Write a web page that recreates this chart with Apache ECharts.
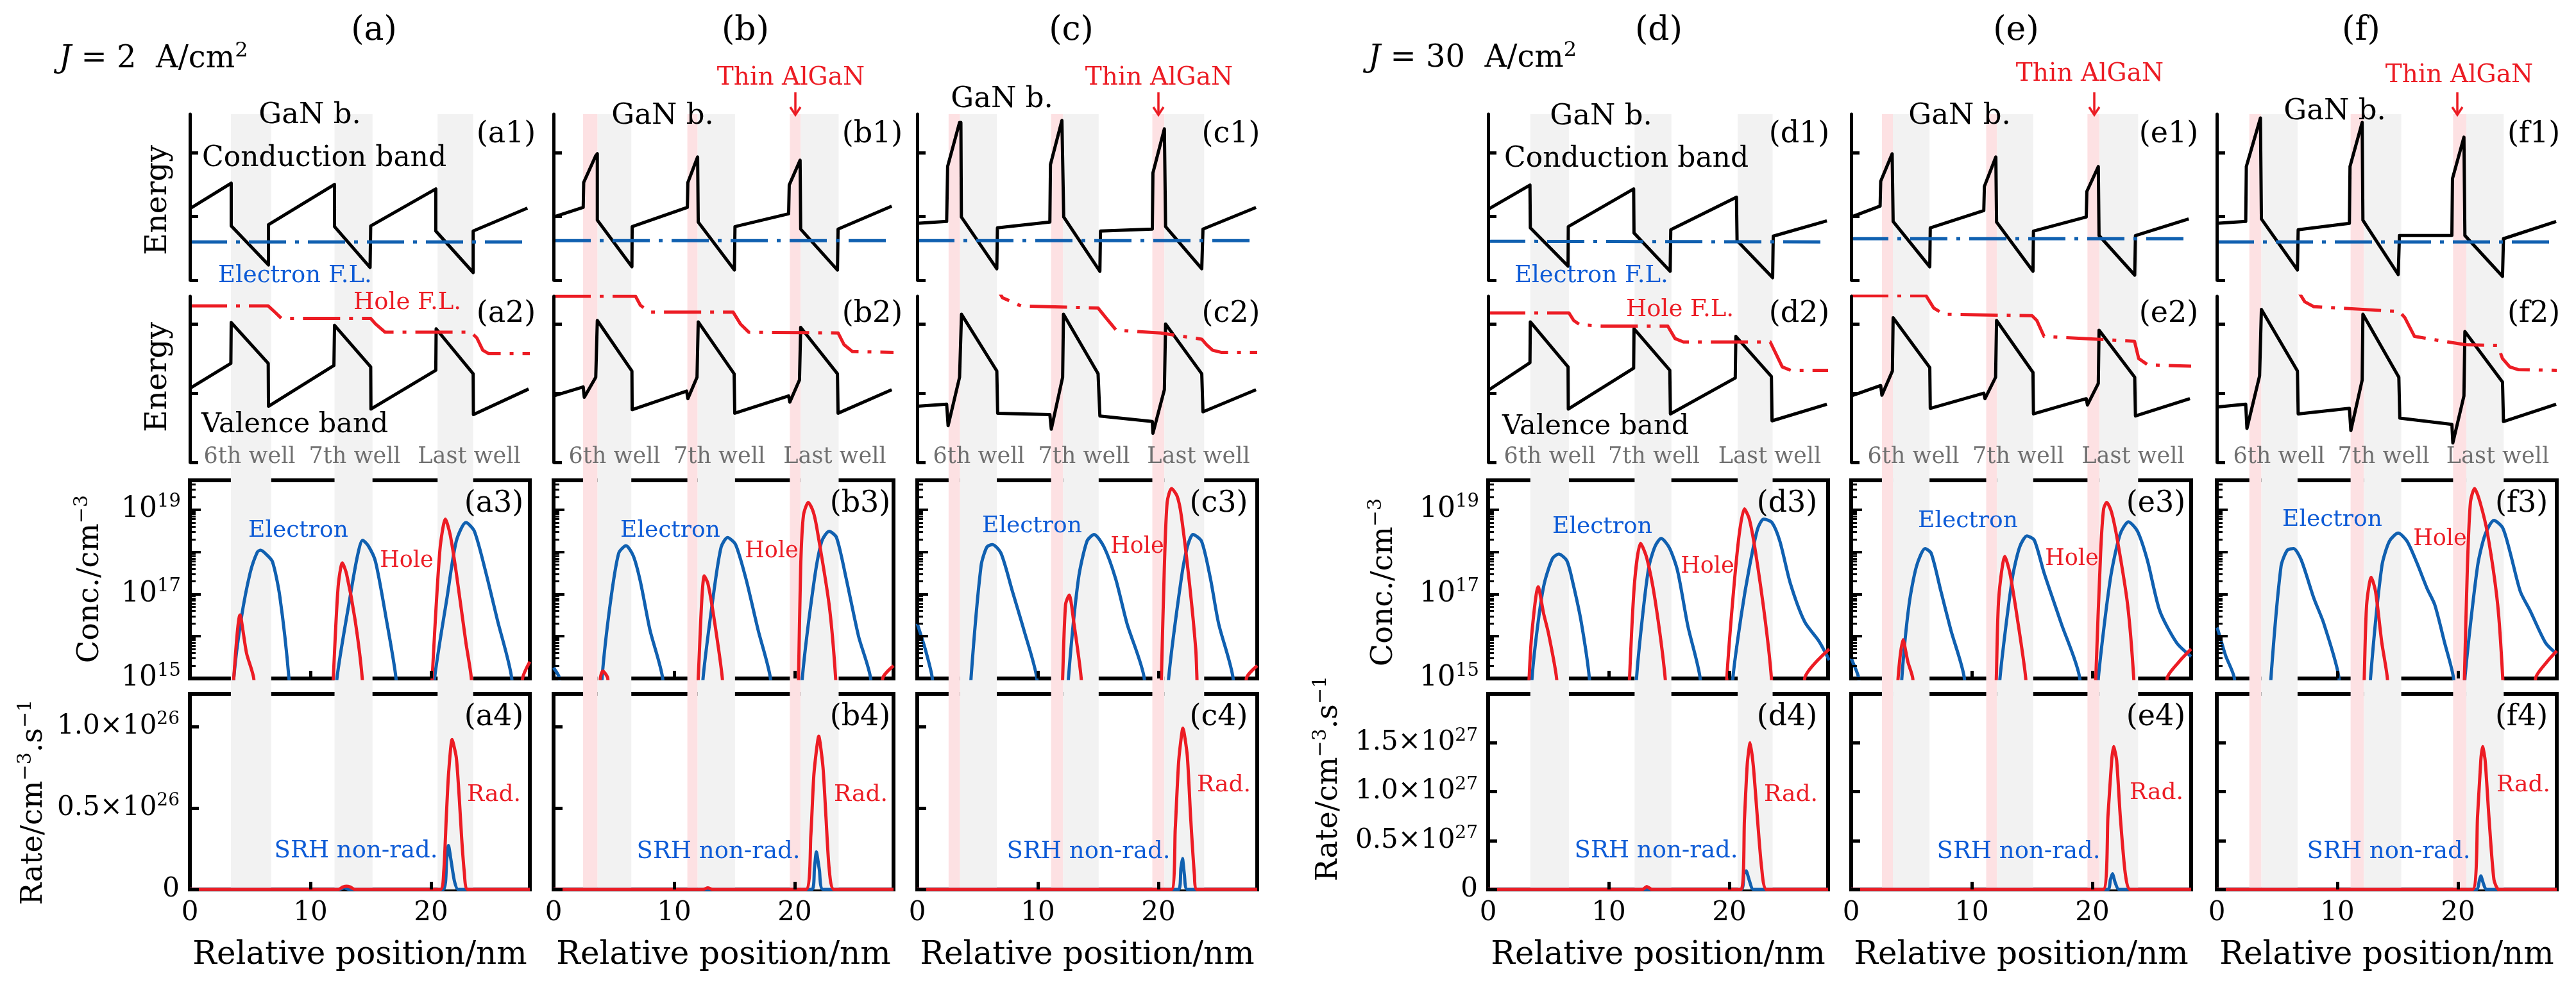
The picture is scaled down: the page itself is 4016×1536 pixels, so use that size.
<!DOCTYPE html>
<html><head><meta charset="utf-8">
<script src="https://cdn.jsdelivr.net/npm/echarts/dist/echarts.min.js"></script>
<style>html,body{margin:0;padding:0;background:#fff}#c{width:4016px;height:1536px}</style>
</head><body><div id="c"></div>
<script>
// ---------------- data (x in nm) ----------------
// shaded regions: quantum wells (gray) and thin AlGaN layers (pink)
const wellsA = [[3.4,6.75],[12.0,15.15],[20.55,23.5]];
const wellsB = [[3.65,6.45],[11.95,15.05],[20.5,23.65]];
const algB   = [[2.45,3.65],[11.1,11.95],[19.6,20.5]];
const wellsC = [[3.55,6.6],[12.1,15.05],[20.5,23.8]];
const algC   = [[2.6,3.55],[11.1,12.1],[19.5,20.5]];
const wellsD = [[3.5,6.7],[12.15,15.2],[20.7,23.6]];
const wellsE = [[3.46,6.5],[12.1,15.1],[20.6,23.8]];
const algE   = [[2.55,3.46],[11.2,12.1],[19.6,20.6]];
const wellsF = [[3.7,6.7],[12.2,15.3],[20.7,23.8]];
const algF   = [[2.7,3.7],[11.1,12.2],[19.6,20.7]];

// conduction band, electron F.L., valence band, hole F.L. (arbitrary energy units)
const cbA = [[0,1.12],[3.43,1.52],[3.43,0.85],[6.52,0.24],[6.52,0.87],[12.0,1.50],[12.0,0.84],[14.95,0.20],[15.0,0.85],[20.4,1.43],[20.4,0.77],[23.5,0.12],[23.5,0.77],[28.0,1.13]];
const efA = [[0,0.60],[28.2,0.60]];
const vbA = [[0,1.07],[3.4,1.43],[3.43,2.02],[6.5,1.43],[6.52,0.81],[11.95,1.40],[12.0,1.98],[15.0,1.38],[15.02,0.77],[20.4,1.33],[20.43,1.93],[23.5,1.28],[23.52,0.69],[28.1,1.06]];
const hfA = [[0,2.26],[6.5,2.26],[7.0,2.18],[7.6,2.08],[15.0,2.08],[15.4,2.0],[16.2,1.88],[23.3,1.88],[23.8,1.80],[24.3,1.62],[24.8,1.57],[28.2,1.57]];

const cbB = [[0,0.99],[2.46,1.14],[2.5,1.53],[3.5,1.95],[3.63,1.98],[3.63,0.94],[6.5,0.21],[6.52,0.84],[11.1,1.14],[11.14,1.53],[11.95,1.93],[12.0,1.93],[12.0,0.91],[15.0,0.16],[15.05,0.84],[19.5,1.04],[19.55,1.49],[20.45,1.88],[20.5,0.80],[23.55,0.16],[23.6,0.80],[28.05,1.16]];
const efB = [[0,0.62],[28.2,0.62]];
const vbB = [[0,0.96],[2.46,1.09],[2.55,0.94],[3.5,1.23],[3.63,2.05],[6.5,1.32],[6.52,0.76],[11.04,1.03],[11.14,0.92],[11.9,1.23],[12.0,2.03],[14.98,1.28],[15.03,0.71],[19.5,0.96],[19.6,0.87],[20.4,1.19],[20.5,1.95],[23.55,1.28],[23.6,0.71],[28.05,1.05]];
const hfB = [[0,2.40],[6.8,2.40],[7.2,2.27],[8.0,2.17],[14.9,2.17],[15.5,2.0],[16.2,1.88],[23.6,1.87],[24.1,1.7],[24.8,1.6],[28.2,1.59]];

const cbC = [[0,0.89],[2.44,0.92],[2.52,1.78],[3.51,2.47],[3.62,2.47],[3.66,0.99],[6.6,0.18],[6.65,0.82],[11.0,0.91],[11.05,1.81],[12.0,2.50],[12.1,2.50],[12.15,0.99],[15.15,0.14],[15.2,0.77],[19.5,0.80],[19.55,1.68],[20.5,2.37],[20.6,0.84],[23.6,0.18],[23.7,0.80],[28.1,1.14]];
const efC = [[0,0.62],[28.2,0.62]];
const vbC = [[0,0.81],[2.44,0.84],[2.56,0.53],[3.51,1.23],[3.67,2.14],[6.6,1.32],[6.67,0.71],[11.0,0.69],[11.12,0.48],[12.06,1.23],[12.13,2.14],[15.0,1.28],[15.15,0.67],[19.5,0.59],[19.55,0.42],[20.5,1.05],[20.6,2.0],[23.6,1.28],[23.7,0.73],[28.1,1.05]];
const hfC = [[5.8,2.75],[7.07,2.38],[8.6,2.26],[15.0,2.23],[15.6,2.1],[16.5,1.91],[20.2,1.87],[23.6,1.78],[24.0,1.7],[24.5,1.62],[25.2,1.59],[28.2,1.59]];

const cbD = [[0,1.11],[3.47,1.49],[3.5,0.82],[6.63,0.22],[6.65,0.84],[12.07,1.43],[12.1,0.74],[15.1,0.14],[15.15,0.79],[20.6,1.30],[20.65,0.62],[23.6,0.04],[23.65,0.69],[28.1,0.93]];
const efD = [[0,0.61],[28.2,0.60]];
const vbD = [[0,1.04],[3.47,1.44],[3.5,2.03],[6.63,1.38],[6.65,0.77],[12.07,1.36],[12.1,1.93],[15.07,1.33],[15.12,0.70],[20.5,1.22],[20.55,1.82],[23.5,1.24],[23.55,0.60],[28.1,0.84]];
const hfD = [[0,2.16],[6.7,2.16],[7.1,2.05],[7.6,1.99],[9.4,1.97],[14.9,1.97],[15.5,1.79],[16.2,1.74],[23.4,1.74],[23.9,1.56],[24.4,1.38],[25.1,1.33],[28.2,1.33]];

const cbE = [[0,0.99],[2.4,1.16],[2.45,1.55],[3.4,1.98],[3.45,1.98],[3.48,0.92],[6.52,0.21],[6.56,0.82],[11.0,1.09],[11.05,1.47],[12.0,1.93],[12.06,0.91],[15.08,0.14],[15.12,0.77],[19.5,0.99],[19.55,1.39],[20.5,1.78],[20.56,0.70],[23.52,0.08],[23.58,0.70],[28.0,0.96]];
const efE = [[0,0.65],[28.2,0.65]];
const vbE = [[0,0.96],[2.45,1.11],[2.55,0.97],[3.42,1.32],[3.48,2.09],[6.52,1.37],[6.56,0.78],[11.0,1.0],[11.1,0.92],[11.98,1.23],[12.06,2.05],[15.08,1.30],[15.12,0.70],[19.5,0.92],[19.6,0.83],[20.5,1.14],[20.56,1.91],[23.52,1.23],[23.58,0.67],[28.1,0.92]];
const hfE = [[0,2.41],[6.2,2.41],[6.85,2.23],[7.7,2.14],[15.0,2.12],[15.4,2.05],[16.0,1.82],[23.5,1.75],[23.85,1.5],[24.6,1.41],[28.2,1.39]];

const cbF = [[0,0.89],[2.4,0.92],[2.45,1.78],[3.62,2.54],[3.7,0.96],[6.69,0.16],[6.75,0.79],[11.0,0.89],[11.05,1.78],[12.06,2.47],[12.12,0.94],[15.05,0.09],[15.15,0.70],[19.5,0.70],[19.55,1.59],[20.5,2.24],[20.58,0.70],[23.7,0.06],[23.78,0.65],[28.15,0.92]];
const efF = [[0,0.60],[28.2,0.60]];
const vbF = [[0,0.80],[2.4,0.84],[2.5,0.49],[3.55,1.25],[3.7,2.21],[6.69,1.32],[6.75,0.70],[11.0,0.78],[11.12,0.46],[12.06,1.19],[12.12,2.14],[15.1,1.23],[15.18,0.64],[19.5,0.55],[19.58,0.28],[20.5,0.96],[20.58,1.89],[23.7,1.16],[23.78,0.59],[28.15,0.84]];
const hfF = [[6.5,2.55],[6.8,2.46],[7.3,2.32],[8.05,2.25],[15.15,2.18],[15.6,2.09],[16.4,1.82],[20.6,1.70],[23.3,1.69],[23.7,1.5],[24.3,1.38],[25.0,1.34],[28.2,1.33]];

// carrier concentrations (cm^-3)
const elA = [[3.54,1e14],[3.64,1e15],[4.25,2.5e16],[5.0,3.2e17],[5.6,1e18],[5.87,1.1e18],[6.3,9e17],[6.85,5.9e17],[7.46,8.9e16],[8.22,1e15],[8.32,1e14],[12.1,1e14],[12.2,1e15],[13.3,8.9e16],[13.9,8e17],[14.33,1.9e18],[14.8,1.4e18],[15.4,5.9e17],[16.3,2.5e16],[17.1,1e15],[17.2,1e14],[20.2,1e14],[20.3,1e15],[21.35,8.9e16],[22.1,1.8e18],[22.9,5e18],[23.6,3.1e18],[24.56,3.2e17],[25.5,2.5e16],[26.7,1e15],[26.8,1e14],[28.2,1e14]];
const hoA = [[3.54,1e14],[3.64,1e15],[4.16,3.2e16],[4.7,4e15],[5.3,1e15],[5.4,1e14],[11.8,1e14],[11.9,1e15],[12.3,1.5e17],[12.65,5.5e17],[13.0,3e17],[13.7,2.5e16],[14.3,1e15],[14.4,1e14],[20.0,1e14],[20.1,1e15],[20.74,1.1e18],[21.2,6e18],[21.6,2.5e18],[22.1,3.2e17],[22.9,7e15],[23.35,1e15],[23.45,1e14],[27.5,1e14],[27.6,1e15],[28.2,2.5e15]];
const elB = [[0,1.8e15],[0.5,1e15],[0.6,1e14],[3.94,1e14],[4.02,1e15],[4.69,5.6e16],[5.4,9.3e17],[6.01,1.4e18],[6.62,8e17],[7.2,2e17],[8.0,1.4e16],[9.05,1e15],[9.15,1e14],[12.3,1e14],[12.4,1e15],[13.3,1.15e17],[13.9,1.3e18],[14.43,2.2e18],[15.1,1.5e18],[15.96,2.3e17],[16.97,1.4e16],[17.99,1e15],[18.1,1e14],[20.55,1e14],[20.63,1e15],[21.64,2.3e17],[22.25,1.8e18],[22.86,3.1e18],[23.47,2.2e18],[24.28,2.3e17],[25.3,1e16],[26.3,1e15],[26.4,1e14],[28.2,1e14]];
const hoB = [[3.8,1e14],[3.88,1e15],[4.08,1.5e15],[4.3,1.3e15],[4.5,1e15],[4.6,1e14],[11.9,1e14],[12.0,1e15],[12.5,2.7e17],[12.8,1.8e17],[13.3,2.8e16],[14.0,1e15],[14.1,1e14],[20.22,1e14],[20.32,1e15],[20.5,4.6e17],[20.73,7.4e18],[21.13,1.5e19],[21.54,9e18],[21.84,3.7e18],[22.86,5.6e16],[23.4,1e15],[23.5,1e14],[27.2,1e14],[27.3,1e15],[28.2,2e15]];
const elC = [[0,2e16],[0.66,5e15],[1.25,1e15],[1.35,1e14],[4.36,1e14],[4.46,1e15],[5.29,4.6e17],[5.77,1.3e18],[6.24,1.5e18],[6.95,9.3e17],[7.9,1.15e17],[8.85,1.4e16],[9.92,1e15],[10.02,1e14],[12.44,1e14],[12.54,1e15],[13.37,2.3e17],[14.08,1.8e18],[14.67,2.6e18],[15.5,1.3e18],[16.46,2.3e17],[17.4,2e16],[18.83,1e15],[18.93,1e14],[20.75,1e14],[20.85,1e15],[21.9,2.3e17],[22.4,1.3e18],[22.87,2.6e18],[23.58,1.8e18],[24.3,2.5e17],[25.0,2e16],[26.2,1e15],[26.3,1e14],[28.2,1e14]];
const hoC = [[11.96,1e14],[12.06,1e15],[12.3,5.6e16],[12.6,9.5e16],[13.0,2e16],[13.6,1e15],[13.7,1e14],[20.15,1e14],[20.25,1e15],[20.5,4.6e17],[20.73,1.5e19],[21.09,3.2e19],[21.56,2.1e19],[21.9,7.4e18],[22.6,1.6e17],[23.1,5e15],[23.2,1e15],[23.3,1e14],[27.2,1e14],[27.3,1e15],[28.2,2e15]];
const elD = [[3.54,1e14],[3.64,1e15],[4.15,2.2e16],[4.66,1.8e17],[5.34,7e17],[5.85,8.9e17],[6.53,6.2e17],[7.04,1.8e17],[7.72,2.2e16],[8.4,1e15],[8.5,1e14],[12.21,1e14],[12.31,1e15],[12.82,3.2e16],[13.33,4.4e17],[13.84,1.35e18],[14.35,2.1e18],[15.03,1.26e18],[15.71,3.6e17],[16.56,1.8e16],[17.59,1e15],[17.69,1e14],[20.2,1e14],[20.3,1e15],[21.0,3.2e16],[21.67,4.3e17],[22.35,3.5e18],[22.86,6e18],[23.54,5e18],[24.2,1.8e18],[25.07,1.8e17],[26.26,2.2e16],[27.45,7.6e15],[28.3,2.7e15]];
const hoD = [[3.3,1e14],[3.4,1e15],[3.64,1.3e16],[4.15,1.5e17],[4.6,3.5e16],[5.0,1.2e16],[5.68,1e15],[5.78,1e14],[11.63,1e14],[11.73,1e15],[12.14,1.8e17],[12.65,1.6e18],[13.16,7.2e17],[13.84,7.6e16],[14.69,1e15],[14.79,1e14],[19.7,1e14],[19.8,1e15],[20.3,7.6e16],[20.82,2.5e18],[21.26,1.05e19],[21.67,6e18],[22.18,1e18],[23.0,2.2e16],[23.5,1e15],[23.6,1e14],[26.16,1e14],[26.26,1e15],[28.3,5e15]];
const elE = [[0,3e15],[0.12,2.5e15],[0.63,1e15],[0.73,1e14],[4.1,1e14],[4.2,1e15],[4.8,5.6e16],[5.42,4.6e17],[6.13,1.2e18],[6.64,9.3e17],[7.45,1.15e17],[8.27,1.4e16],[9.39,1e15],[9.49,1e14],[12.24,1e14],[12.34,1e15],[13.36,2.3e17],[13.97,1.3e18],[14.58,2.4e18],[15.19,1.9e18],[16.0,3.2e17],[17.43,2e16],[18.96,1e15],[19.06,1e14],[20.4,1e14],[20.5,1e15],[21.5,2.3e17],[22.3,2.6e18],[23.0,5.2e18],[23.75,3.1e18],[24.56,6.5e17],[25.6,4e16],[27.0,7e15],[28.2,3.3e15]];
const hoE = [[3.79,1e14],[3.89,1e15],[4.3,8.3e15],[4.7,2.5e15],[5.11,1e15],[5.21,1e14],[11.94,1e14],[12.04,1e15],[12.24,8e16],[12.75,7.8e17],[13.16,3.2e17],[13.77,2.8e16],[14.48,1e15],[14.58,1e14],[20.19,1e14],[20.29,1e15],[20.69,9.3e17],[20.94,1.05e19],[21.2,1.5e19],[21.6,8.7e18],[22.1,1.8e18],[22.93,5.6e16],[23.44,1e15],[23.54,1e14],[26.1,1e14],[26.2,1e15],[27.2,2.5e15],[28.2,5e15]];
const elF = [[0,1.6e16],[0.1,1.4e16],[0.73,3.5e15],[1.46,1e15],[1.56,1e14],[4.39,1e14],[4.49,1e15],[5.33,4.6e17],[5.85,1.1e18],[6.37,1.2e18],[7.0,6.5e17],[8.05,8e16],[8.88,2e16],[10.14,1e15],[10.24,1e14],[12.65,1e14],[12.75,1e15],[13.69,4.6e17],[14.32,1.8e18],[15.05,2.8e18],[15.78,1.8e18],[16.6,5.5e17],[17.45,1.35e17],[18.08,5.6e16],[18.9,7e15],[19.64,1e15],[19.74,1e14],[20.48,1e14],[20.58,1e15],[21.63,4.6e17],[22.26,2.6e18],[22.99,5.6e18],[23.72,3.7e18],[24.35,9.3e17],[25.18,1.15e17],[26.0,4e16],[27.27,7e15],[28.2,3.8e15]];
const hoF = [[12.13,1e14],[12.23,1e15],[12.43,5.6e16],[12.81,2.5e17],[13.17,1.15e17],[13.69,7e15],[14.15,1e15],[14.25,1e14],[20.44,1e14],[20.54,1e15],[20.79,4.6e17],[21.04,1.5e19],[21.38,3.2e19],[21.84,1.5e19],[22.47,2.6e18],[23.3,5.6e16],[23.72,1e15],[23.82,1e14],[26.34,1e14],[26.44,1e15],[27.4,2.5e15],[28.2,4.5e15]];

// recombination rates (cm^-3 s^-1)
const radA = [[0,0],[12.3,0],[12.7,0.015e26],[13.0,0.02e26],[13.3,0.015e26],[13.7,0],[20.77,0],[21.06,0.11e26],[21.27,0.44e26],[21.45,0.70e26],[21.75,0.92e26],[22.1,0.81e26],[22.34,0.57e26],[22.55,0.31e26],[22.76,0.11e26],[23.05,0],[28.2,0]];
const srhA = [[0,0],[12.4,0],[12.8,0.01e26],[13.2,0],[21.0,0],[21.3,0.18e26],[21.45,0.27e26],[21.66,0.18e26],[21.95,0.05e26],[22.25,0],[28.2,0]];
const radB = [[0,0],[12.4,0],[12.8,0.01e26],[13.2,0],[20.93,0],[21.34,0.33e26],[21.6,0.71e26],[22.0,0.94e26],[22.35,0.75e26],[22.6,0.44e26],[22.86,0.13e26],[23.26,0],[28.2,0]];
const srhB = [[0,0],[21.44,0],[21.64,0.13e26],[21.8,0.23e26],[22.05,0.12e26],[22.35,0],[28.2,0]];
const radC = [[0,0],[21.09,0],[21.4,0.37e26],[21.69,0.79e26],[22.04,0.99e26],[22.4,0.82e26],[22.68,0.44e26],[22.99,0.09e26],[23.2,0],[28.2,0]];
const srhC = [[0,0],[21.68,0],[21.87,0.13e26],[22.0,0.19e26],[22.16,0.09e26],[22.4,0],[28.2,0]];
const radD = [[0,0],[12.8,0],[13.16,0.03e27],[13.6,0],[20.99,0],[21.26,0.71e27],[21.5,1.29e27],[21.73,1.5e27],[22.0,1.26e27],[22.35,0.71e27],[22.69,0.22e27],[23.1,0],[28.2,0]];
const srhD = [[0,0],[20.99,0],[21.22,0.16e27],[21.4,0.19e27],[21.67,0.09e27],[22.0,0],[28.2,0]];
const radE = [[0,0],[20.9,0],[21.3,0.75e27],[21.61,1.32e27],[21.77,1.46e27],[22.02,1.32e27],[22.32,0.75e27],[22.73,0.17e27],[23.14,0],[28.2,0]];
const srhE = [[0,0],[21.3,0],[21.5,0.10e27],[21.67,0.16e27],[21.9,0.07e27],[22.2,0],[28.2,0]];
const radF = [[0,0],[21.21,0],[21.63,0.75e27],[21.9,1.32e27],[22.05,1.46e27],[22.26,1.32e27],[22.57,0.75e27],[22.99,0.10e27],[23.4,0],[28.2,0]];
const srhF = [[0,0],[21.53,0],[21.8,0.10e27],[21.9,0.14e27],[22.09,0.07e27],[22.36,0],[28.2,0]];

// axis settings / tick labels
const xTicks = [0, 10, 20];
const concMin = 1e15, concMax = 5e19;
const rateLeft  = {max: 1.2e26, step: 0.5e26, exp: 26};
const rateRight = {max: 2.0e27, step: 0.5e27, exp: 27};
const colLetters = ['a','b','c','d','e','f'];
const wellNames = ['6th well', '7th well', 'Last well'];

// ---------------- layout / style ----------------
const FF = 'DejaVu Serif';
const BLUE = '#1060b0', RED = '#ec1c24', TBLUE = '#0d5bd6', GRAYT = '#6f6f6f';
const GRAY = '#f2f2f2', PINK = '#fde1e3';
const X0 = [296, 863, 1430, 2320, 2886, 3456];
const W = 530, XMAX = 28.2;
const ROW = [[178,259],[462,259],[749,309],[1082,305]];
const BGR = [178, 1209];
const DASHDOT = [58, 14, 6, 14];

const COLS = [
  {cb:cbA, ef:efA, vb:vbA, hf:hfA, el:elA, ho:hoA, rad:radA, srh:srhA, wells:wellsA, alg:[], rate:rateLeft, lab:true},
  {cb:cbB, ef:efB, vb:vbB, hf:hfB, el:elB, ho:hoB, rad:radB, srh:srhB, wells:wellsB, alg:algB, rate:rateLeft, lab:false},
  {cb:cbC, ef:efC, vb:vbC, hf:hfC, el:elC, ho:hoC, rad:radC, srh:srhC, wells:wellsC, alg:algC, rate:rateLeft, lab:false},
  {cb:cbD, ef:efD, vb:vbD, hf:hfD, el:elD, ho:hoD, rad:radD, srh:srhD, wells:wellsD, alg:[], rate:rateRight, lab:true},
  {cb:cbE, ef:efE, vb:vbE, hf:hfE, el:elE, ho:hoE, rad:radE, srh:srhE, wells:wellsE, alg:algE, rate:rateRight, lab:false},
  {cb:cbF, ef:efF, vb:vbF, hf:hfF, el:elF, ho:hoF, rad:radF, srh:srhF, wells:wellsF, alg:algF, rate:rateRight, lab:false}
];

function richAx(size) {
  return {
    n: {fontFamily: FF, fontSize: size, color: '#000', lineHeight: Math.round(size*1.2)},
    s: {fontFamily: FF, fontSize: Math.round(size*0.66), color: '#000', verticalAlign: 'top', lineHeight: Math.round(size*0.75)}
  };
}

const grid = [], xAxis = [], yAxis = [], series = [];
COLS.forEach((c, ci) => {
  const x = X0[ci];
  const base = grid.length;
  grid.push({left: x, top: BGR[0], width: W, height: BGR[1], show: false});
  ROW.forEach((r, k) => grid.push({left: x, top: r[0], width: W, height: r[1], show: k >= 2,
    borderColor: '#000', borderWidth: 6, backgroundColor: 'transparent', z: 1}));
  // background axes
  xAxis.push({gridIndex: base, type: 'value', min: 0, max: XMAX, show: false});
  yAxis.push({gridIndex: base, type: 'value', min: 0, max: 1, show: false});
  for (let k = 0; k < 4; k++) {
    const gi = base + 1 + k;
    xAxis.push({gridIndex: gi, type: 'value', min: 0, max: XMAX, interval: 10, show: k >= 2, z: 4,
      axisLine: {show: false},
      axisTick: {show: true, inside: true, length: 12, lineStyle: {width: 5, color: '#000'}, customValues: [10, 20]},
      axisLabel: {show: k === 3, margin: 16, fontFamily: FF, fontSize: 42, color: '#000', customValues: xTicks},
      splitLine: {show: false},
      name: k === 3 ? 'Relative position/nm' : '', nameLocation: 'middle', nameGap: 78,
      nameTextStyle: {fontFamily: FF, fontSize: 50, color: '#000'}});
    let ya;
    if (k < 2) {
      ya = {gridIndex: gi, type: 'value', min: 0, max: k === 0 ? 2.6 : 2.4, interval: 1, z: 4,
        axisLine: {show: true, lineStyle: {color: '#000', width: 5}},
        axisTick: {show: true, inside: true, length: 13, lineStyle: {width: 5, color: '#000'}, customValues: [0, 1, 2]},
        axisLabel: {show: false}, splitLine: {show: false}};
    } else if (k === 2) {
      ya = {gridIndex: gi, type: 'log', logBase: 10, min: concMin, max: concMax, z: 4,
        axisLine: {show: false},
        axisTick: {show: true, inside: true, length: 17, lineStyle: {width: 4, color: '#000'}},
        minorTick: {show: true, splitNumber: 9, length: 9, lineStyle: {width: 3, color: '#000'}},
        axisLabel: {show: c.lab, margin: 14, showMaxLabel: false,
          formatter: v => { const e = Math.round(Math.log10(v)); return (e % 2 === 1) ? '{n|10}{s|' + e + '}' : ''; },
          rich: richAx(44)},
        splitLine: {show: false}, minorSplitLine: {show: false}};
    } else {
      ya = {gridIndex: gi, type: 'value', min: 0, max: c.rate.max, interval: c.rate.step, z: 4,
        axisLine: {show: false},
        axisTick: {show: true, inside: true, length: 14, lineStyle: {width: 5, color: '#000'}},
        axisLabel: {show: c.lab, margin: 16, showMaxLabel: false,
          formatter: v => v === 0 ? '{n|0}' : '{n|' + (v / Math.pow(10, c.rate.exp)).toFixed(1) + '×10}{s|' + c.rate.exp + '}',
          rich: richAx(42)},
        splitLine: {show: false}};
    }
    yAxis.push(ya);
  }
  // background shading
  const areas = [];
  c.alg.forEach(a => areas.push([{xAxis: a[0], itemStyle: {color: PINK}}, {xAxis: a[1]}]));
  c.wells.forEach(a => areas.push([{xAxis: a[0], itemStyle: {color: GRAY}}, {xAxis: a[1]}]));
  series.push({type: 'line', xAxisIndex: base, yAxisIndex: base, data: [[0, 0]], symbol: 'none',
    lineStyle: {opacity: 0}, silent: true, z: -5,
    markArea: {silent: true, itemStyle: {color: GRAY}, data: areas}});
  const L = (k, data, color, width, dash, smooth) => ({type: 'line', xAxisIndex: base + 1 + k, yAxisIndex: base + 1 + k,
    data, symbol: 'none', showSymbol: false, smooth: smooth || false, clip: true, silent: true, z: 3,
    lineStyle: {color, width, type: dash || 'solid', cap: 'butt', join: 'round'}});
  series.push(L(0, c.cb, '#000', 5));
  series.push(L(0, c.ef, BLUE, 5, DASHDOT));
  series.push(L(1, c.vb, '#000', 5));
  series.push(L(1, c.hf, RED, 5, DASHDOT));
  series.push(L(2, c.el, BLUE, 5, null, 0.25));
  series.push(L(2, c.ho, RED, 5, null, 0.25));
  series.push(L(3, c.srh, BLUE, 5, null, 0.2));
  series.push(L(3, c.rad, RED, 5, null, 0.2));
});

// ---------------- annotations ----------------
const els = [];
function txt(text, x, y, size, color, align, rot) {
  const o = {type: 'text', x, y, z: 50, silent: true,
    style: {text, fontFamily: FF, fontSize: size, fill: color, align: align || 'center', verticalAlign: 'middle',
      textAlign: align || 'center', textVerticalAlign: 'middle',
      rich: {
        n: {fontFamily: FF, fontSize: size, fill: color, lineHeight: Math.round(size*1.2)},
        i: {fontFamily: FF, fontSize: size, fill: color, fontStyle: 'italic', lineHeight: Math.round(size*1.2)},
        s: {fontFamily: FF, fontSize: Math.round(size*0.66), fill: color, verticalAlign: 'top', lineHeight: Math.round(size*0.75)}
      }}};
  if (rot) o.rotation = rot;
  return o;
}
const ANN = [
  {tx: 583, gan: [483,180], p12: 789, p34: 770, el: [465,828], ho: [634,875], rad: [770,1240], srh: [555,1327], wl: [389,553,731.5]},
  {tx: 1162, gan: [1033,181], p12: 1360, p34: 1341, el: [1045,828], ho: [1203,860], rad: [1342,1240], srh: [1120,1328], wl: [958,1121.5,1301.5], thin: [1233,122,1240]},
  {tx: 1670, gan: [1562,155], p12: 1919, p34: 1900, el: [1609,821], ho: [1773,853], rad: [1908,1225], srh: [1697,1328], wl: [1526,1690,1868.5], thin: [1807,122,1806]},
  {tx: 2586, gan: [2496,182], p12: 2805, p34: 2786, el: [2498,822], ho: [2662,884], rad: [2792,1240], srh: [2582,1327], wl: [2416,2578.5,2759]},
  {tx: 3143, gan: [3055,181], p12: 3381, p34: 3361, el: [3068,813], ho: [3230,872], rad: [3362,1237], srh: [3147,1328], wl: [2983,3146.5,3325.5], thin: [3258,116,3265]},
  {tx: 3681, gan: [3640,174], p12: 3950, p34: 3931, el: [3636,811], ho: [3804,841], rad: [3934,1225], srh: [3724,1328], wl: [3553,3716,3894], thin: [3834,118,3831]}
];
ANN.forEach((a, i) => {
  const L = colLetters[i];
  els.push(txt('(' + L + ')', a.tx, 48, 52, '#000'));
  els.push(txt('GaN b.', a.gan[0], a.gan[1], 45, '#000'));
  els.push(txt('(' + L + '1)', a.p12, 210, 46, '#000'));
  els.push(txt('(' + L + '2)', a.p12, 490, 46, '#000'));
  els.push(txt('(' + L + '3)', a.p34, 786, 46, '#000'));
  els.push(txt('(' + L + '4)', a.p34, 1119, 46, '#000'));
  els.push(txt('Electron', a.el[0], a.el[1], 36, TBLUE));
  els.push(txt('Hole', a.ho[0], a.ho[1], 35, RED));
  els.push(txt('Rad.', a.rad[0], a.rad[1], 36, RED));
  els.push(txt('SRH non-rad.', a.srh[0], a.srh[1], 37, TBLUE));
  a.wl.forEach((wx, j) => els.push(txt(wellNames[j], wx, 713, 35, GRAYT)));
  if (a.thin) {
    els.push(txt('Thin AlGaN', a.thin[0], a.thin[1], 39, RED));
    const ax = a.thin[2];
    els.push({type: 'line', z: 50, silent: true, shape: {x1: ax, y1: 144, x2: ax, y2: 179}, style: {stroke: RED, lineWidth: 3.5}});
    els.push({type: 'polyline', z: 50, silent: true, shape: {points: [[ax - 8, 167], [ax, 179], [ax + 8, 167]]}, style: {stroke: RED, lineWidth: 3.5, fill: null}});
  }
});
// group-level labels
els.push(txt('{i|J}{n| = 2  A/cm}{s|2}', 92, 93, 48, '#000', 'left'));
els.push(txt('{i|J}{n| = 30  A/cm}{s|2}', 2133, 92, 48, '#000', 'left'));
els.push(txt('Conduction band', 315, 248, 44, '#000', 'left'));
els.push(txt('Conduction band', 2345, 249, 44, '#000', 'left'));
els.push(txt('Electron F.L.', 340, 430, 37, TBLUE, 'left'));
els.push(txt('Electron F.L.', 2361, 430, 37, TBLUE, 'left'));
els.push(txt('Hole F.L.', 551, 472, 37, RED, 'left'));
els.push(txt('Hole F.L.', 2535, 483, 37, RED, 'left'));
els.push(txt('Valence band', 314, 663, 43, '#000', 'left'));
els.push(txt('Valence band', 2342, 666, 43, '#000', 'left'));
els.push(txt('Energy', 247, 312, 47, '#000', 'center', Math.PI / 2));
els.push(txt('Energy', 247, 588, 47, '#000', 'center', Math.PI / 2));
els.push(txt('{n|Conc./cm}{s|−3}', 141, 903, 46, '#000', 'center', Math.PI / 2));
els.push(txt('{n|Conc./cm}{s|−3}', 2158, 908, 46, '#000', 'center', Math.PI / 2));
els.push(txt('{n|Rate/cm}{s|−3}{n|.s}{s|−1}', 53, 1251, 46, '#000', 'center', Math.PI / 2));
els.push(txt('{n|Rate/cm}{s|−3}{n|.s}{s|−1}', 2072, 1214, 46, '#000', 'center', Math.PI / 2));

const chart = echarts.init(document.getElementById('c'), null, {renderer: 'canvas'});
chart.setOption({
  animation: false,
  backgroundColor: '#fff',
  grid, xAxis, yAxis, series,
  graphic: {elements: els}
});
</script></body></html>
